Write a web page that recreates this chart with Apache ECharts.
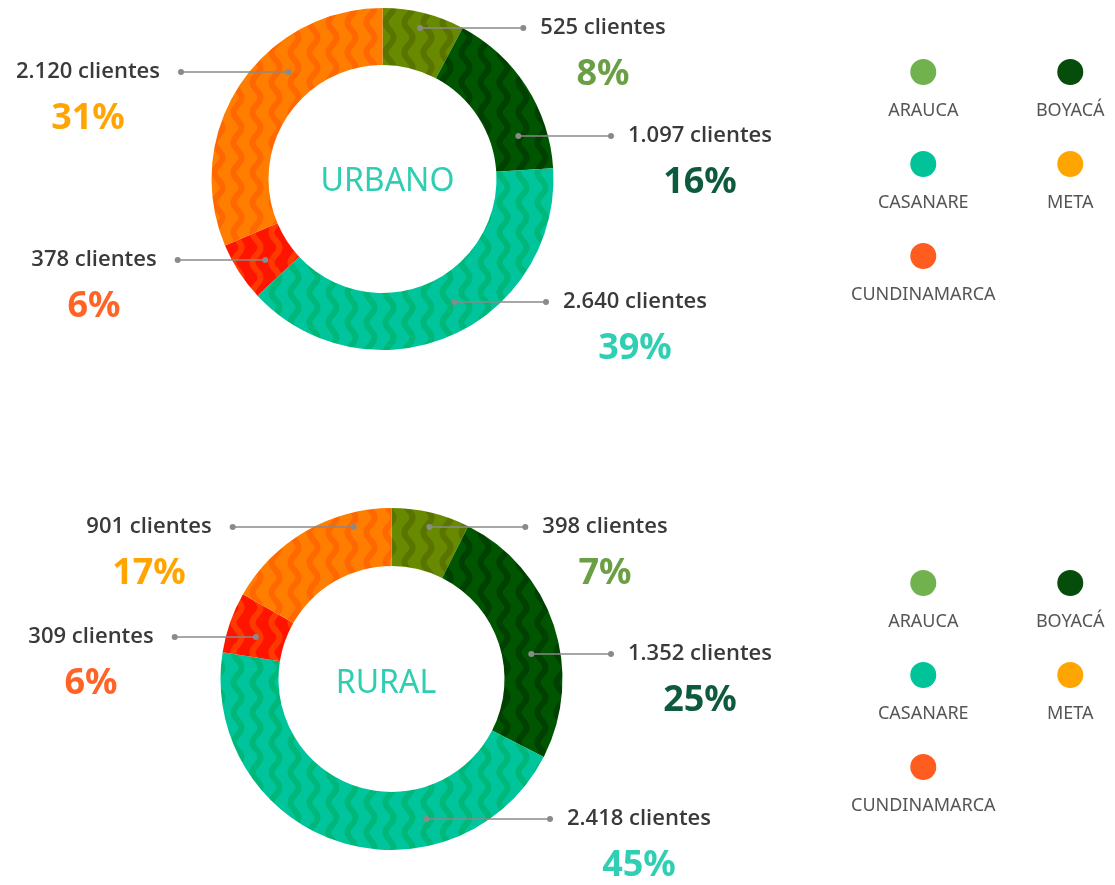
<!doctype html>
<html>
<head>
<meta charset="UTF-8">
<title>Clientes urbano / rural</title>
<script src="https://cdn.jsdelivr.net/npm/echarts@6/dist/echarts.min.js"></script>
<style>
  html, body { margin: 0; padding: 0; background: #fff; }
  #main { width: 1115px; height: 885px; }
</style>
</head>
<body>
<div id="main"></div>
<script>
// datos
var regions = ['ARAUCA', 'BOYACÁ', 'CASANARE', 'CUNDINAMARCA', 'META'];
var urbanoClientes = [525, 1097, 2640, 378, 2120];
var ruralClientes = [398, 1352, 2418, 309, 901];
var groupNames = ['URBANO', 'RURAL'];
var legendOrder = ['ARAUCA', 'BOYACÁ', 'CASANARE', 'META', 'CUNDINAMARCA'];

// colores
var sliceBase = ['#678a00', '#005500', '#00c59c', '#ff1400', '#ff7e00'];
var sliceWave = ['#5a7400', '#004000', '#00b77a', '#ff3a00', '#ff6800'];
var pctColors = ['#6a9f45', '#0e5a3c', '#30cfb3', '#ff6426', '#ffa400'];
var legendColors = ['#72b24e', '#064d0c', '#00c39a', '#ff5c20', '#ffa500'];

// posiciones (layout)
var pieGeo = [
  { cx: 382.5, cy: 179, r0: 114, r1: 171 },
  { cx: 391.5, cy: 679, r0: 113, r1: 171 }
];
var titlePos = [[387.5, 182], [386, 684]];
var labelAnchors = [
  [[603, 28], [700, 136], [635, 302], [94, 260], [88, 72]],
  [[605, 527], [700, 654], [639, 819], [91, 637], [149, 527]]
];

function wave(base, dark) {
  var w = 19, h = 30;
  var c = document.createElement('canvas');
  c.width = w; c.height = h;
  var ctx = c.getContext('2d');
  ctx.fillStyle = base;
  ctx.fillRect(0, 0, w, h);
  ctx.strokeStyle = dark;
  ctx.lineWidth = 6;
  ctx.lineCap = 'round';
  ctx.beginPath();
  for (var y = -4; y <= h + 4; y++) {
    var x = w / 2 + 4 * Math.sin(y / h * 2 * Math.PI);
    if (y === -4) ctx.moveTo(x, y); else ctx.lineTo(x, y);
  }
  ctx.stroke();
  return c;
}

function fmt(v) {
  return String(v).replace(/\B(?=(\d{3})+(?!\d))/g, '.');
}

var linePts = [[], []];

function placeLabel(s, p) {
  var g = pieGeo[s];
  var i = p.dataIndex;
  var lx = labelAnchors[s][i][0], ly = labelAnchors[s][i][1];
  var right = lx > g.cx;
  var dy = ly - g.cy;
  var r = Math.max((g.r0 + g.r1) / 2, Math.abs(dy) / Math.cos(14 * Math.PI / 180));
  var x0 = g.cx + Math.sqrt(Math.max(r * r - dy * dy, 0)) * (right ? 1 : -1);
  var half = p.labelRect.width / 2;
  var x1 = right ? lx - half - 17 : lx + half + 21;
  linePts[s][i] = [[x0, ly], [x1, ly]];
  return { x: lx, y: ly - 20, align: 'center', verticalAlign: 'top' };
}

var rich = {
  n: { fontFamily: 'Open Sans', fontSize: 22, fontWeight: 600, color: '#3a3a3a', lineHeight: 40 }
};
pctColors.forEach(function (c, i) {
  rich['p' + i] = { fontFamily: 'Noto Sans', fontSize: 36, fontWeight: 'bold', color: c, lineHeight: 54 };
});

function pieSeries(s, values) {
  var g = pieGeo[s];
  return {
    type: 'pie',
    name: groupNames[s],
    center: [g.cx, g.cy],
    radius: [g.r0, g.r1],
    startAngle: 90,
    clockwise: true,
    avoidLabelOverlap: false,
    emphasis: { disabled: true },
    label: {
      show: true,
      position: 'outside',
      formatter: function (p) {
        return '{n|' + fmt(p.value) + ' clientes}\n{p' + p.dataIndex + '|' + Math.round(p.percent) + '%}';
      },
      rich: rich
    },
    labelLine: { show: false },
    labelLayout: function (p) { return placeLabel(s, p); },
    data: values.map(function (v, i) {
      return {
        name: regions[i],
        value: v,
        itemStyle: { color: { image: wave(sliceBase[i], sliceWave[i]), repeat: 'repeat' } }
      };
    })
  };
}

var legendRich = {
  n: { fontFamily: 'Noto Sans', fontSize: 18, color: '#555', lineHeight: 52, width: 111, align: 'center' }
};
legendOrder.forEach(function (name, k) {
  legendRich['d' + k] = {
    width: 26, height: 26, borderRadius: 13, lineHeight: 26, align: 'center',
    backgroundColor: legendColors[regions.indexOf(name)]
  };
});

function makeLegend(top) {
  return {
    data: legendOrder,
    left: 851,
    top: top,
    width: 290,
    padding: 0,
    orient: 'horizontal',
    itemGap: 31,
    itemWidth: 0,
    itemHeight: 0,
    selectedMode: false,
    itemStyle: { opacity: 0 },
    formatter: function (name) {
      return '{d' + legendOrder.indexOf(name) + '|}\n{n|' + name + '}';
    },
    textStyle: { rich: legendRich }
  };
}

// textos centrales, guías y puntos (calculados desde la geometría del pie)
function buildGraphic() {
  var els = groupNames.map(function (t, s) {
    return {
      type: 'text',
      x: titlePos[s][0],
      y: titlePos[s][1],
      style: {
        text: t, align: 'center', verticalAlign: 'middle',
        font: '32px "Noto Sans"', fill: '#2fcdb2'
      }
    };
  });
  linePts.forEach(function (arr) {
    arr.forEach(function (pts) {
      els.push({
        type: 'polyline', z: 99,
        shape: { points: pts },
        style: { stroke: '#8a8a8a', lineWidth: 1.5, fill: null }
      });
      pts.forEach(function (pt) {
        els.push({
          type: 'circle', z: 100,
          shape: { cx: pt[0], cy: pt[1], r: 3 },
          style: { fill: '#8a8a8a' }
        });
      });
    });
  });
  return els;
}

var chart = echarts.init(document.getElementById('main'), null, { renderer: 'canvas' });
chart.setOption({
  animation: false,
  legend: [makeLegend(59), makeLegend(570)],
  graphic: buildGraphic(),
  series: [pieSeries(0, urbanoClientes), pieSeries(1, ruralClientes)]
});
// segunda pasada: guías con los rectángulos de etiqueta ya medidos
chart.setOption({ graphic: buildGraphic() });
</script>
</body>
</html>
